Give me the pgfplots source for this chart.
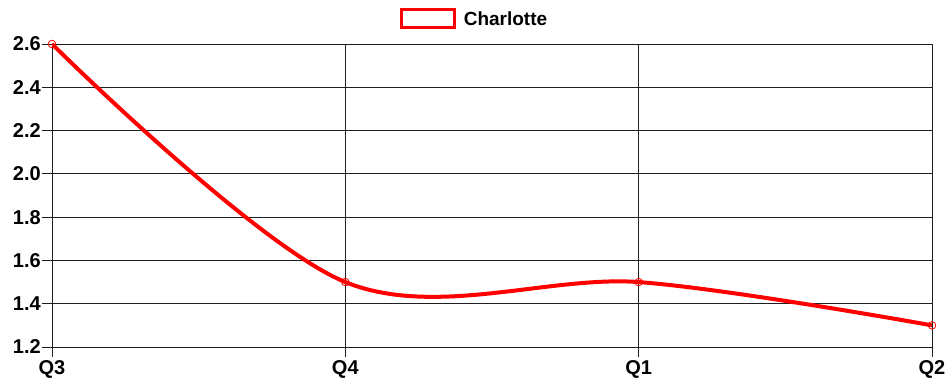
\documentclass[border=0pt]{standalone}
\usepackage{pgfplots}
\pgfplotsset{compat=1.18}
\usepackage{fontspec}
\setmainfont{Liberation Sans}
\definecolor{linered}{RGB}{255,0,0}
\definecolor{gridgray}{RGB}{30,30,30}
\begin{document}
\begin{tikzpicture}[x=1pt,y=1pt]
\useasboundingbox (-52,-40) rectangle (897,347);
\begin{axis}[
  at={(0,0)}, anchor=south west,
  scale only axis, width=880pt, height=303pt,
  xmin=0, xmax=3, ymin=1.2, ymax=2.6,
  xtick={0,1,2,3}, xticklabels={Q3,Q4,Q1,Q2},
  ytick={1.2,1.4,...,2.6},
  xtick pos=bottom, ytick pos=left,
  yticklabel style={/pgf/number format/fixed,/pgf/number format/fixed zerofill,/pgf/number format/precision=1},
  /pgf/number format/assume math mode=true,
  ticklabel style={font=\fontsize{20}{22}\selectfont\bfseries, text=black},
  xticklabel style={inner sep=2pt, yshift=-1pt},
  yticklabel style={inner sep=1pt},
  tick align=outside, major tick length=10pt,
  tick style={gridgray, line width=0.8pt},
  grid=major, major grid style={gridgray, line width=0.8pt},
  axis line style={draw=none},
  legend style={at={(0.4801,1.0825)}, anchor=center, draw=none, fill=none,
    font=\fontsize{19}{22}\selectfont\bfseries, column sep=0pt,
    /tikz/every even column/.append style={column sep=0pt}},
  legend image code/.code={\draw[linered, line width=3pt] (0pt,-9pt) rectangle (53pt,9pt);},
  legend cell align=left,
]
\addplot[linered, line width=4pt, smooth, tension=0.55,
  mark=o, mark size=3.8pt, mark options={line width=0.8pt, fill=none}]
  coordinates {(0,2.6) (1,1.5) (2,1.5) (3,1.3)};
\addlegendentry{\hspace{6pt}Charlotte}
\end{axis}
\end{tikzpicture}
\end{document}
